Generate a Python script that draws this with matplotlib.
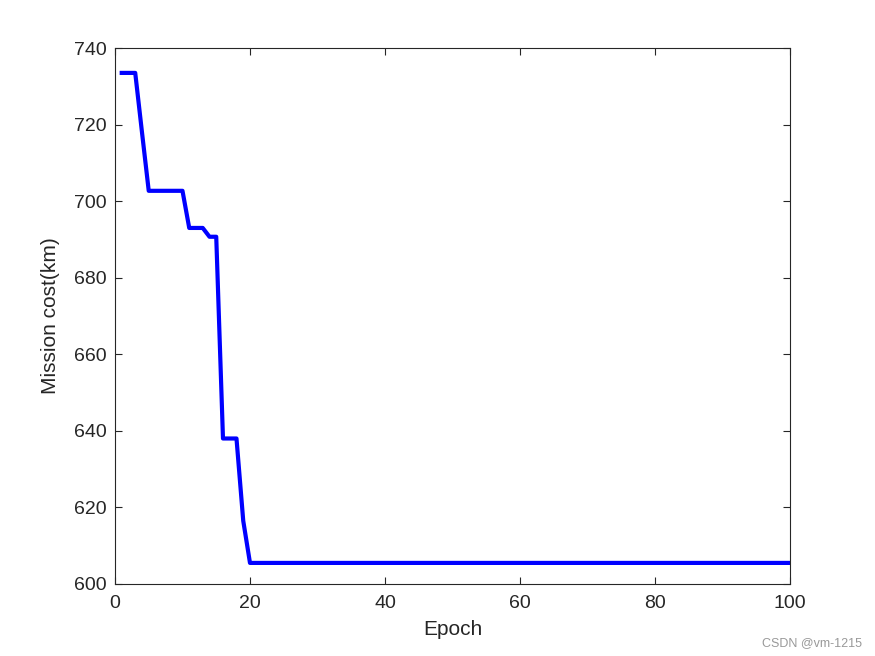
import matplotlib.pyplot as plt
import numpy as np

plt.rcParams['font.family'] = ['Liberation Sans', 'DejaVu Sans']

# Mission cost per epoch
epochs = np.arange(1, 101)
cost_head = [733.5, 733.5, 733.5, 718.0, 702.7, 702.7, 702.7, 702.7, 702.7, 702.7,
             693.0, 693.0, 693.0, 690.7, 690.7, 638.0, 638.0, 638.0, 616.5, 605.5]
cost = np.array(cost_head + [605.5] * (len(epochs) - len(cost_head)))

fig = plt.figure(figsize=(8.75, 6.56), dpi=100)
ax = fig.add_axes([0.1314, 0.1098, 0.7715, 0.817])
ax.plot(epochs, cost, color='#0000ff', linewidth=3)
ax.set_xlim(0, 100)
ax.set_ylim(600, 740)
ax.set_xticks(np.arange(0, 101, 20))
ax.set_yticks(np.arange(600, 741, 20))
ax.tick_params(direction='in', labelsize=14, length=5, top=True, right=True,
               labeltop=False, labelright=False, colors='#262626')
ax.tick_params(axis='x', pad=8)
ax.tick_params(axis='y', pad=6)
for s in ax.spines.values():
    s.set_color('#262626')
    s.set_linewidth(0.8)
ax.set_xlabel('Epoch', fontsize=15, color='#262626', labelpad=6)
ax.set_ylabel('Mission cost(km)', fontsize=15, color='#262626', labelpad=10)
fig.text(0.985, 0.01, 'CSDN @vm-1215', ha='right', va='bottom', fontsize=9, color='#999999')

fig.savefig('out.png', dpi=100)
